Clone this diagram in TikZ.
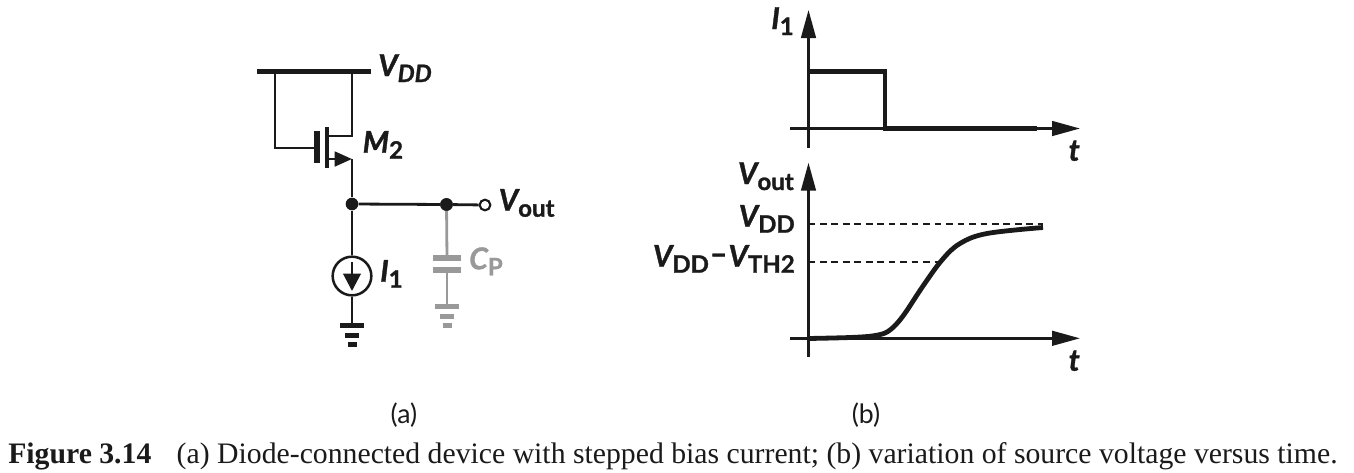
\documentclass[tikz,border=0pt]{standalone}
\usepackage{fontspec}
\setmainfont{Lato}[BoldFeatures={FakeBold=1.2},BoldItalicFeatures={FakeBold=1.2}]
\newfontfamily\capfont{Liberation Serif}
\usetikzlibrary{arrows.meta}
\definecolor{ink}{HTML}{1A1A1A}
\definecolor{capgray}{HTML}{999999}
\newcommand{\bigf}{\fontsize{22.5}{22.5}\selectfont\bfseries}
\newcommand{\subs}[1]{\raisebox{-4.5pt}{\fontsize{18}{18}\selectfont #1}}
\newcommand{\var}[1]{{\itshape #1}}

\tikzset{
    wire/.style     = {line width=2.1pt, line join=miter},
    rail/.style     = {line width=3.6pt},
    axis/.style     = {line width=1.9pt, -{Triangle[length=21pt,width=11pt]}},
    trace/.style    = {line width=3.6pt, line join=miter},
    guide/.style    = {line width=1.3pt, dash pattern=on 5pt off 3.6pt},
    dot/.style      = {circle, fill=ink, inner sep=0pt, minimum size=9.5pt},
    port/.style     = {circle, draw=ink, fill=white, line width=1.6pt, inner sep=0pt, minimum size=8pt},
    source/.style   = {circle, draw=ink, line width=1.9pt, inner sep=0pt, minimum size=29pt},
    lab/.style      = {inner sep=0pt, text=ink, font=\bigf},
    pics/gnd/.style = {code={
        \draw [rail] (-12,0) -- (12,0);
        \draw [rail] (-7,9.5) -- (7,9.5);
        \draw [rail] (-4.5,19) -- (4.5,19);
    }}
}

\begin{document}
\begin{tikzpicture}[x=0.75pt, y=-0.75pt, color=ink]
    \useasboundingbox (0,0) rectangle (1354,472);

    % Circuit points
    \coordinate (rl)  at (257,71.5);
    \coordinate (rr)  at (371,71.5);
    \coordinate (gt)  at (275,71.5);
    \coordinate (gb)  at (275,148);
    \coordinate (gp)  at (317,148);
    \coordinate (pt)  at (317,131);
    \coordinate (pb)  at (317,163);
    \coordinate (ct)  at (327,127);
    \coordinate (cb)  at (327,168);
    \coordinate (dt)  at (352,71.5);
    \coordinate (dc)  at (352,136);
    \coordinate (dl)  at (327,136);
    \coordinate (sl)  at (327,159);
    \coordinate (sr)  at (352,159);
    \coordinate (pl1) at (433,258);
    \coordinate (pr1) at (461,258);
    \coordinate (pl2) at (433,270);
    \coordinate (pr2) at (461,270);
    \coordinate (ct1) at (447,258);
    \coordinate (ct2) at (447,270);
    \coordinate (cg)  at (447,306.7);
    \coordinate (ig)  at (352,325.7);
    \coordinate (at)  at (352,262);
    \coordinate (ab)  at (352,291);

    % Nodes
    \node [dot]    (j1)   at (352,204) {};
    \node [dot]    (j2)   at (446.5,204.5) {};
    \node [port]   (out)  at (485,205) {};
    \node [source] (i1)   at (352,276) {};

    % Rail and transistor
    \draw [rail] (rl) -- (rr);
    \draw [wire] (gt) -- (gb) -- (gp);
    \draw [line width=3.8pt] (pt) -- (pb);
    \draw [line width=3.2pt] (ct) -- (cb);
    \draw [wire] (dt) -- (dc) -- (dl);
    \draw [wire, -{Triangle[length=13pt,width=11pt]}] (sl) -- (sr);
    \draw [wire] (sr) -- (j1);

    % Output and current source
    \draw [wire] (j1) -- (i1);
    \draw [wire] (i1) -- (ig);
    \draw [wire, -{Triangle[length=13pt,width=13pt]}] (at) -- (ab);
    \pic at (ig) {gnd};

    % Load capacitor
    \begin{scope}[color=capgray]
        \draw [wire] (j2) -- (ct1);
        \draw [rail, line width=3.8pt] (pl1) -- (pr1);
        \draw [rail, line width=3.8pt] (pl2) -- (pr2);
        \draw [wire] (ct2) -- (cg);
        \pic at (cg) {gnd};
    \end{scope}
    \draw [wire] (j1) -- (j2) -- (out);
    \node [dot] (j2b) at (j2) {};

    % Circuit labels
    \node [lab, anchor=base west] (vdd)  at (378,76)    {\var{V}\subs{\var{DD}}};
    \node [lab, anchor=base west] (m2)   at (362.5,152.7) {\var{M}\subs{2}};
    \node [lab, anchor=base west] (vo)   at (498.5,210.7) {\var{V}\subs{out}};
    \node [lab, anchor=base west] (il)   at (380,281.7) {\var{I}\subs{1}};
    \node [lab, anchor=base west, text=capgray] (cp) at (469,269.3) {\var{C}\subs{P}};

    % Upper plot
    \coordinate (ua0) at (808.5,148);
    \coordinate (ua1) at (808.5,10);
    \coordinate (ub0) at (790,128.5);
    \coordinate (ub1) at (1080,128.5);
    \coordinate (p0)  at (808.5,71.5);
    \coordinate (p1)  at (885,71.5);
    \coordinate (p2)  at (885,128.5);
    \coordinate (p3)  at (1037,128.5);
    \draw [axis] (ua0) -- (ua1);
    \draw [axis] (ub0) -- (ub1);
    \draw [trace] (p0) -- (p1) -- (p2) -- (p3);
    \node [lab, anchor=base east] (i1y) at (794,29)    {\var{I}\subs{1}};
    \node [lab, anchor=base east] (tu)  at (1080,160.7) {\var{t}};

    % Lower plot
    \coordinate (la0) at (808.5,356.7);
    \coordinate (la1) at (808.5,162.7);
    \coordinate (lb0) at (790,338.3);
    \coordinate (lb1) at (1080,338.3);
    \coordinate (d1l) at (808.5,223.7);
    \coordinate (d1r) at (1043,223.7);
    \coordinate (d2l) at (808.5,262);
    \coordinate (d2r) at (938,262);
    \draw [axis] (la0) -- (la1);
    \draw [axis] (lb0) -- (lb1);
    \draw [guide] (d1l) -- (d1r);
    \draw [guide] (d2l) -- (d2r);
    \draw [trace] plot [smooth, tension=0.6] coordinates
        {(808,338.5) (855,337.3) (878,335) (890,330) (903,316) (923,286) (942,260) (960,243.5) (987,233.5) (1043,227.5)};
    \node [lab, anchor=base east] (vo2)  at (794,184)   {\var{V}\subs{out}};
    \node [lab, anchor=base east] (vd2)  at (795,226.7) {\var{V}\subs{DD}};
    \node [lab, anchor=base east] (vth)  at (795,266.7) {\var{V}\subs{DD}\hspace{0.8pt}\raisebox{2pt}{--}\hspace{0.8pt}\var{V}\subs{TH2}};
    \node [lab, anchor=base east] (tl)   at (1080,370.7) {\var{t}};

    % Captions
    \node [inner sep=0pt, text=ink, font=\fontsize{20}{20}\selectfont] (capa) at (404,415) {(a)};
    \node [inner sep=0pt, text=ink, font=\fontsize{20}{20}\selectfont] (capb) at (866,415) {(b)};
    \node [inner sep=0pt, anchor=base west, text=ink, font=\capfont\fontsize{22.3}{23}\selectfont] (fig) at (8,463)
        {\textbf{Figure 3.14}\hspace{19pt}(a) Diode-connected device with stepped bias current; (b) variation of source voltage versus time.};
\end{tikzpicture}
\end{document}
